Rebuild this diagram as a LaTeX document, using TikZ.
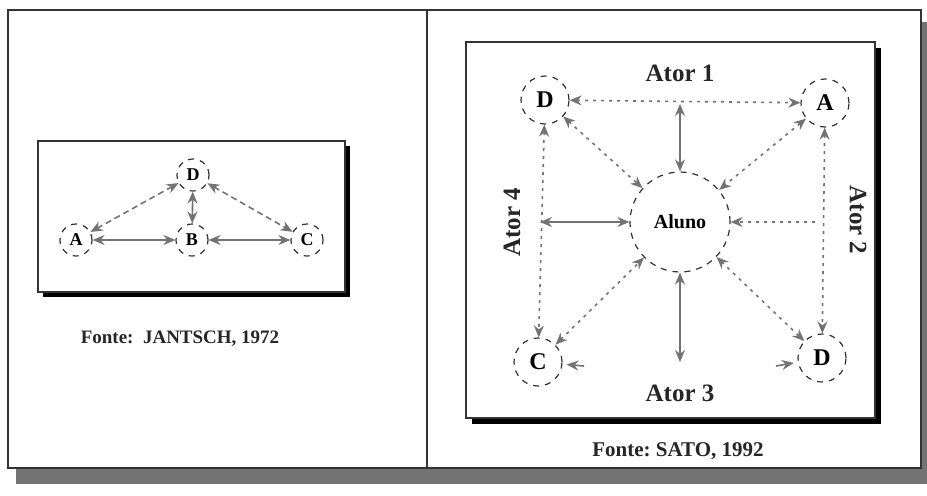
\documentclass[tikz,border=0pt]{standalone}
\usepackage{fontspec}
\setmainfont{Liberation Serif}
\usetikzlibrary{arrows.meta}
\begin{document}
\begin{tikzpicture}[x=0.5pt,y=-0.5pt,
  nd/.style={circle,draw=black!80,dashed,line width=0.6pt,inner sep=0pt,font=\bfseries},
  sm/.style={nd,minimum size=16pt,font=\bfseries\fontsize{9}{10}\selectfont},
  md/.style={nd,minimum size=24pt,font=\bfseries\fontsize{12}{13}\selectfont},
  big/.style={nd,minimum size=50pt,font=\bfseries\fontsize{10}{11}\selectfont},
  link/.style={draw=black!55,line width=0.8pt,{Stealth[length=6pt,width=5pt]}-{Stealth[length=6pt,width=5pt]}},
  one/.style={draw=black!55,line width=0.8pt,-{Stealth[length=6pt,width=5pt]}},
  dl/.style={link,dash pattern=on 1.5pt off 2.5pt},
  dsh/.style={link,dash pattern=on 3pt off 2pt},
  lbl/.style={font=\bfseries\fontsize{12.5}{14}\selectfont,text=black!85},
  src/.style={font=\bfseries\fontsize{9.5}{11}\selectfont,text=black!85}]
\useasboundingbox (0,0) rectangle (927,495);
% outer frame with shadow
\fill[black!55] (16,22) rectangle (927,484);
\filldraw[fill=white,draw=black!80,line width=0.8pt] (8,10) rectangle (921,468);
\draw[black!80,line width=0.6pt] (427,10) -- (427,468);
% left inner box
\fill[black] (43,146) rectangle (350,297);
\filldraw[fill=white,draw=black!80,line width=0.6pt] (38,141) rectangle (345,292);
% right inner box
\fill[black] (472,48) rectangle (881,424);
\filldraw[fill=white,draw=black!80,line width=0.6pt] (466,42) rectangle (875,418);
% left diagram
\node[sm] (lD) at (193,175) {D};
\node[sm] (lA) at (76,240) {A};
\node[sm] (lB) at (192,240) {B};
\node[sm] (lC) at (307,240) {C};
\draw[dsh] (lA) -- (lD);
\draw[dsh] (lD) -- (lC);
\draw[link] (lD) -- (lB);
\draw[link] (lA) -- (lB);
\draw[link] (lB) -- (lC);
\node[src] (fl) at (180,339) {Fonte:\ \ JANTSCH, 1972};
% right diagram
\node[md] (rD) at (545,100) {D};
\node[md] (rA) at (825,103) {A};
\node[md] (rC) at (538,362) {C};
\node[md] (rB) at (822,358) {D};
\node[big] (al) at (680,222) {Aluno};
\node[lbl] (a1) at (680,73) {Ator 1};
\node[lbl,rotate=-90] (a2) at (858,220) {Ator 2};
\node[lbl] (a3) at (680,393) {Ator 3};
\node[lbl,rotate=90] (a4) at (512,222) {Ator 4};
\coordinate (t1) at (680,104);
\coordinate (t3) at (680,362);
\coordinate (t4) at (540,222);
\coordinate (t2) at (815,222);
\coordinate (sc) at (584,366);
\coordinate (sd) at (776,366);
\draw[dl] (rD) -- (rA);
\draw[dl] (rD) -- (rC);
\draw[dl] (rA) -- (rB);
\draw[link] (t1) -- (al);
\draw[link] (al) -- (t3);
\draw[link] (t4) -- (al);
\draw[one,dash pattern=on 1.5pt off 2.5pt] (t2) -- (al);
\draw[dl] (rD) -- (al);
\draw[dl] (rA) -- (al);
\draw[dl] (rC) -- (al);
\draw[dl] (rB) -- (al);
\draw[one,shorten >=2pt] (sc) -- (rC);
\draw[one,shorten >=2pt] (sd) -- (rB);
\node[src,font=\bfseries\fontsize{10.5}{12}\selectfont] (fr) at (678,451) {Fonte:\ SATO, 1992};
\end{tikzpicture}
\end{document}
